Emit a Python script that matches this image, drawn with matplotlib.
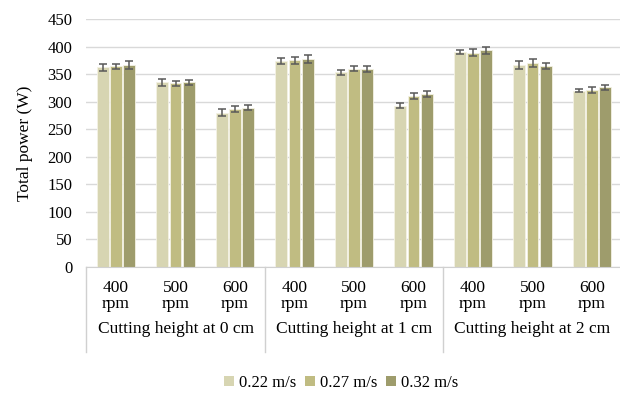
import matplotlib
matplotlib.use("Agg")
import matplotlib.pyplot as plt
import numpy as np
from matplotlib.patches import Patch
from matplotlib.lines import Line2D

plt.rcParams['font.family'] = ['Liberation Serif', 'DejaVu Serif']

speeds = ["400\nrpm", "500\nrpm", "600\nrpm"] * 3
groups = ["Cutting height at 0 cm", "Cutting height at 1 cm", "Cutting height at 2 cm"]
series_names = ["0.22 m/s", "0.27 m/s", "0.32 m/s"]
v022 = [362, 335, 280, 374, 353, 293, 390, 367, 320]
v027 = [364, 333, 287, 375, 360, 310, 389, 370, 321]
v032 = [367, 335, 289, 378, 359, 314, 393, 365, 326]
e022 = [6, 7, 6, 6, 4, 5, 4, 7, 3]
e027 = [5, 5, 6, 6, 5, 6, 6, 7, 5]
e032 = [7, 4, 5, 7, 6, 5, 6, 6, 5]
yticks = [0, 50, 100, 150, 200, 250, 300, 350, 400, 450]

colors = ["#d7d5b2", "#c0bc82", "#9e9c6c"]

fig = plt.figure(figsize=(6.2, 3.94), dpi=100)
ax = fig.add_axes([86.25/620, 1-267/394, (621.75-86.25)/620, 248/394])

x = np.arange(len(speeds))
w = 0.2
gap = 0.025
for i, (vals, errs) in enumerate(zip([v022, v027, v032], [e022, e027, e032])):
    off = (i - 1) * (w + gap)
    ax.bar(x + off, vals, w, color=colors[i], edgecolor="#f4f2e4", linewidth=0.6, zorder=2)
    ax.errorbar(x + off, vals, yerr=errs, fmt="none", ecolor="#595959", elinewidth=1.1,
                capsize=3, capthick=1.1, zorder=3)

ax.set_xlim(-0.5, 8.5)
ax.set_ylim(0, 450)
ax.set_yticks(yticks)
ax.yaxis.grid(True, color="#d9d9d9", linewidth=1, zorder=0)
ax.set_axisbelow(True)
for s in ["top", "right", "left"]:
    ax.spines[s].set_visible(False)
ax.spines["bottom"].set_color("#d0d0d0")
ax.tick_params(axis="y", length=0, pad=10, labelsize=12)
ax.set_xticks([])
ax.set_ylabel("Total power (W)", fontsize=12.5, labelpad=10)

trans = ax.get_xaxis_transform()
ah = 248.0
def ay(py):
    return -(py - 267) / ah

for xi, lab in zip(x, speeds):
    ax.text(xi, ay(296), lab, transform=trans, ha="center", va="center", fontsize=12.5, linespacing=1.0)
for gi, g in enumerate(groups):
    ax.text(gi * 3 + 1, ay(329), g, transform=trans, ha="center", va="center", fontsize=12.5)
for sx in [-0.5, 2.5, 5.5]:
    ax.add_line(Line2D([sx, sx], [0, ay(352)], transform=trans, color="#d0d0d0",
                       linewidth=1, clip_on=False))

handles = [Patch(facecolor=c, edgecolor="none") for c in colors]
fig.legend(handles, series_names, loc="center", bbox_to_anchor=(341/620, 1-383/394),
           ncol=3, frameon=False, fontsize=12, handlelength=0.6, handleheight=0.6,
           handletextpad=0.3, columnspacing=0.5)

fig.savefig("out.png", dpi=100)
